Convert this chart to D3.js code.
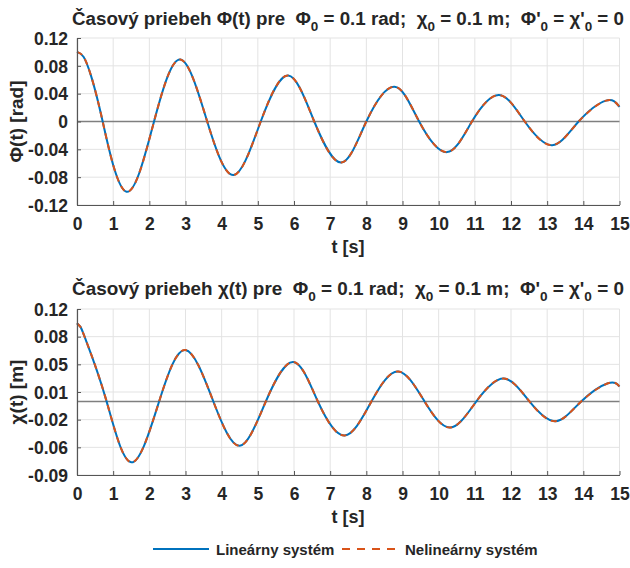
<!DOCTYPE html>
<html lang="sk">
<meta charset="utf-8">
<style>
  body { margin: 0; background: #fff; }
  text { font-family: "Liberation Sans", Arial, sans-serif; font-weight: bold; fill: #262626; }
</style>
<body>
<svg width="630" height="568"></svg>
<script src="https://d3js.org/d3.v7.min.js"></script>
<script>
// hodnoty odcitane z obrazka (extremy, prechody nulou a par bodov na zaciatku)
const tPhi = [0, 0.18, 0.38, 0.71, 1.37, 2.13, 2.86, 3.60, 4.33, 5.08, 5.84, 6.56, 7.31, 8.00, 8.78, 9.46, 10.23, 10.92, 11.67, 12.38, 13.14, 13.87, 14.63, 15]
const phiLin = [0.100, 0.093, 0.067, 0, -0.101, 0, 0.089, 0, -0.077, 0, 0.066, 0, -0.059, 0, 0.050, 0, -0.044, 0, 0.038, 0, -0.034, 0, 0.030, 0.021]
const phiNonlin = [0.100, 0.093, 0.067, 0, -0.101, 0, 0.089, 0, -0.077, 0, 0.066, 0, -0.059, 0, 0.050, 0, -0.044, 0, 0.038, 0, -0.034, 0, 0.030, 0.021]

const tChi = [0, 0.1, 0.25, 0.8, 1.5, 2.27, 3.00, 3.77, 4.50, 5.22, 5.98, 6.66, 7.40, 8.14, 8.88, 9.61, 10.32, 11.04, 11.80, 12.51, 13.23, 13.94, 14.68, 15]
const chiLin = [0.102, 0.097, 0.080, 0.006, -0.074, 0.003, 0.068, 0.003, -0.053, 0.003, 0.053, 0.003, -0.040, 0.003, 0.041, 0.003, -0.030, 0.003, 0.032, 0.003, -0.022, 0.003, 0.026, 0.022]
const chiNonlin = [0.102, 0.097, 0.080, 0.006, -0.074, 0.003, 0.068, 0.003, -0.053, 0.003, 0.053, 0.003, -0.040, 0.003, 0.041, 0.003, -0.030, 0.003, 0.032, 0.003, -0.022, 0.003, 0.026, 0.022]

const xTicks = [0,1,2,3,4,5,6,7,8,9,10,11,12,13,14,15]
const phiTicks = [-0.12, -0.08, -0.04, 0, 0.04, 0.08, 0.12]
const phiTickLabels = ['-0.12', '-0.08', '-0.04', '0', '0.04', '0.08', '0.12']
const chiTicks = [-0.09, -0.055, -0.02, 0.015, 0.05, 0.085, 0.12]
const chiTickLabels = ['-0.09', '-0.06', '-0.02', '0.01', '0.05', '0.08', '0.12']
const refLevels = [0, 0.003]

const seriesNames = ['Lineárny systém', 'Nelineárny systém']
const colors = ['#0072bd', '#d95319']

const svg = d3.select('svg')
const left = 77, right = 619.5

let x = d3.scaleLinear().domain([0, 15]).range([left, right])

// titulok so subskriptmi, sirka podla predlohy
function title(y, symbol) {
  let t = svg.append('text').attr('x', 348).attr('y', y)
     .attr('text-anchor', 'middle').attr('font-size', 18)
     .style('white-space', 'pre')
  let parts = [
    ['Časový priebeh ' + symbol + '(t) pre  Φ'], ['0', 1], [' = 0.1 rad;  χ'], ['0', 1],
    [' = 0.1 m;  Φ\''], ['0', 1], [' = χ\''], ['0', 1], [' = 0']
  ]
  let sub = false
  parts.forEach(p => {
    let s = t.append('tspan').text(p[0])
    if (p[1]) { s.attr('dy', 6).attr('font-size', '0.72em'); sub = true }
    else if (sub) { s.attr('dy', -6); sub = false }
  })
  let w = t.node().getComputedTextLength()
  t.attr('font-size', 18 * 552 / w)
}

function panel(top, bottom, yTicks, yLabels, ref, tData, series, yTitle, titleY, symbol) {
  let y = d3.scaleLinear().domain([yTicks[0], yTicks[yTicks.length - 1]]).range([bottom, top])
  let g = svg.append('g')

  // mriežka
  g.append('g').selectAll('line').data(xTicks).enter().append('line')
    .attr('x1', d => x(d)).attr('x2', d => x(d)).attr('y1', top).attr('y2', bottom)
    .attr('stroke', '#e3e3e3').attr('stroke-width', 1)
  g.append('g').selectAll('line').data(yTicks).enter().append('line')
    .attr('x1', left).attr('x2', right).attr('y1', d => y(d)).attr('y2', d => y(d))
    .attr('stroke', '#e3e3e3').attr('stroke-width', 1)

  // vodorovna referencna ciara
  g.append('line').attr('x1', left).attr('x2', right)
    .attr('y1', y(ref)).attr('y2', y(ref))
    .attr('stroke', '#7f7f7f').attr('stroke-width', 1.5)

  // krivky
  let line = d3.line().x((d, i) => x(tData[i])).y(d => y(d)).curve(d3.curveNatural)
  series.forEach((s, i) => {
    g.append('path').attr('d', line(s)).attr('fill', 'none')
      .attr('stroke', colors[i]).attr('stroke-width', 2)
      .attr('stroke-dasharray', i ? '6,5' : null)
  })

  // osi
  let xAxis = d3.axisBottom(x).tickValues(xTicks).tickSize(-4).tickSizeOuter(0).tickPadding(8)
  let ax = g.append('g').attr('transform', `translate(0,${bottom})`).call(xAxis)
  let yAxis = d3.axisLeft(y).tickValues(yTicks).tickFormat((d, i) => yLabels[i])
    .tickSize(-4).tickSizeOuter(0).tickPadding(9)
  let ay = g.append('g').attr('transform', `translate(${left},0)`).call(yAxis)
  ;[ax, ay].forEach(a => {
    a.select('.domain').attr('stroke', '#555').attr('stroke-width', 1.2)
    a.selectAll('.tick line').attr('stroke', '#555')
    a.selectAll('.tick text').attr('font-size', 17.5).attr('font-family', null).attr('fill', '#262626')
  })
  ax.selectAll('.tick text').attr('dy', '0.95em')
  ay.selectAll('.tick text').attr('dy', '0.36em')

  g.append('text').attr('x', 348).attr('y', bottom + 48).attr('text-anchor', 'middle')
    .attr('font-size', 18).text('t [s]')
  g.append('text').attr('transform', `translate(23,${(top + bottom) / 2}) rotate(-90)`)
    .attr('text-anchor', 'middle').attr('font-size', 19).text(yTitle)

  title(titleY, symbol)
}

panel(38, 205, phiTicks, phiTickLabels, refLevels[0], tPhi, [phiLin, phiNonlin], 'Φ(t) [rad]', 25, 'Φ')
panel(309, 475, chiTicks, chiTickLabels, refLevels[1], tChi, [chiLin, chiNonlin], 'χ(t) [m]', 295, 'χ')

// legenda
let leg = svg.append('g')
let legX = [153, 342]
seriesNames.forEach((n, i) => {
  leg.append('line').attr('x1', legX[i]).attr('x2', legX[i] + 56).attr('y1', 549).attr('y2', 549)
    .attr('stroke', colors[i]).attr('stroke-width', 2).attr('stroke-dasharray', i ? '8,7' : null)
  leg.append('text').attr('x', legX[i] + 63).attr('y', 554.5).attr('font-size', 15).text(n)
})
</script>
</body>
</html>
